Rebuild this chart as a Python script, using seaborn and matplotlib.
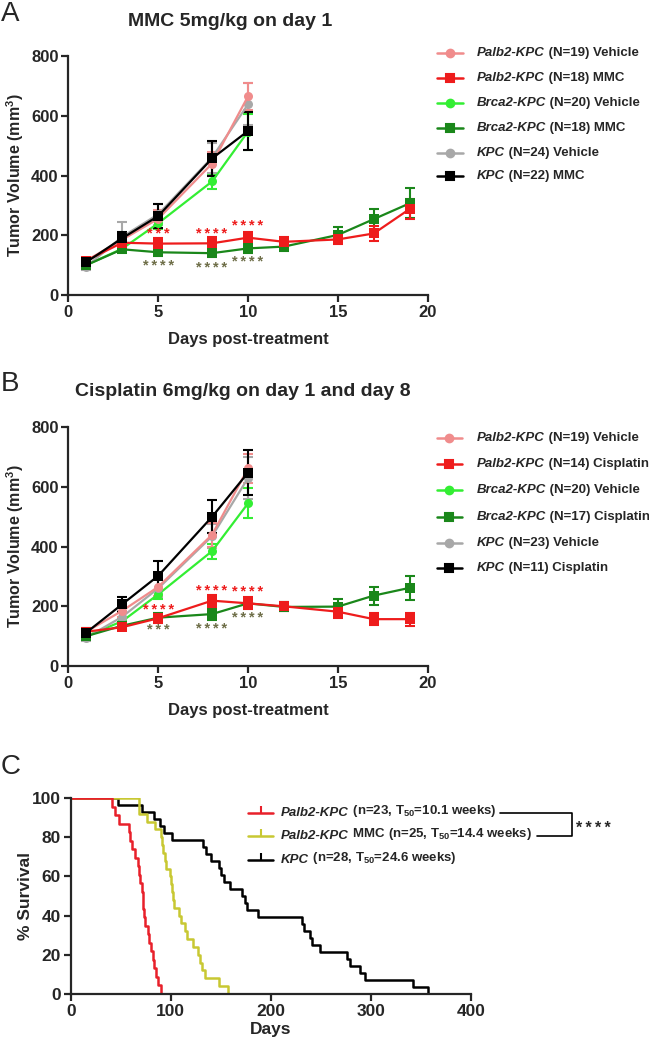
import numpy as np
import pandas as pd
import seaborn as sns
import matplotlib.pyplot as plt
from matplotlib.lines import Line2D

sns.set_style('ticks')
plt.rcParams['font.family'] = ['Liberation Sans', 'DejaVu Sans']
plt.rcParams['mathtext.fontset'] = 'custom'
plt.rcParams['mathtext.rm'] = 'Liberation Sans'
plt.rcParams['mathtext.bf'] = 'Liberation Sans:bold'
plt.rcParams['mathtext.it'] = 'Liberation Sans:italic'

# ---------------- data ----------------
day_veh = [1, 3, 5, 8, 10]
day_trt = [1, 3, 5, 8, 10, 12, 15, 17, 19]

# panel A - MMC
a_palb2_veh = [115, 185, 255, 440, 665]
a_palb2_veh_err = [10, 20, 30, 40, 45]
a_palb2_mmc = [115, 175, 172, 173, 192, 178, 186, 206, 288]
a_palb2_mmc_err = [10, 15, 20, 20, 20, 15, 15, 25, 35]
a_brca2_veh = [100, 155, 240, 380, 547]
a_brca2_veh_err = [8, 15, 20, 25, 60]
a_brca2_mmc = [100, 153, 143, 140, 156, 162, 201, 254, 307]
a_brca2_mmc_err = [8, 10, 12, 12, 15, 15, 25, 35, 50]
a_kpc_veh = [95, 195, 270, 460, 638]
a_kpc_veh_err = [10, 50, 35, 50, 70]
a_kpc_mmc = [110, 190, 264, 457, 549]
a_kpc_mmc_err = [15, 20, 40, 60, 65]

# panel B - cisplatin
b_palb2_veh = [115, 185, 265, 440, 662]
b_palb2_veh_err = [10, 20, 30, 40, 50]
b_palb2_cis = [115, 130, 160, 219, 210, 200, 182, 157, 157]
b_palb2_cis_err = [10, 10, 15, 20, 20, 15, 20, 20, 22]
b_brca2_veh = [100, 150, 240, 385, 545]
b_brca2_veh_err = [8, 12, 15, 25, 50]
b_brca2_cis = [100, 135, 162, 174, 210, 198, 199, 236, 262]
b_brca2_cis_err = [8, 10, 15, 20, 15, 15, 25, 30, 40]
b_kpc_veh = [95, 165, 260, 435, 630]
b_kpc_veh_err = [10, 20, 30, 40, 70]
b_kpc_cis = [112, 207, 302, 500, 648]
b_kpc_cis_err = [15, 25, 50, 55, 75]

group_keys = ['palb2_veh', 'palb2_trt', 'brca2_veh', 'brca2_trt', 'kpc_veh', 'kpc_trt']
group_colors = ['#F08C8C', '#EE1C1C', '#33EE33', '#1A871A', '#A8A8A8', '#000000']
group_markers = ['o', 's', 'o', 's', 'o', 's']
draw_order = ['brca2_veh', 'kpc_veh', 'palb2_veh', 'brca2_trt', 'palb2_trt', 'kpc_trt']

legend_geno = ['Palb2-KPC', 'Palb2-KPC', 'Brca2-KPC', 'Brca2-KPC', 'KPC', 'KPC']
a_legend_rest = [' (N=19) Vehicle', ' (N=18) MMC', ' (N=20) Vehicle',
                 ' (N=18) MMC', ' (N=24) Vehicle', ' (N=22) MMC']
b_legend_rest = [' (N=19) Vehicle', ' (N=14) Cisplatin', ' (N=20) Vehicle',
                 ' (N=17) Cisplatin', ' (N=23) Vehicle', ' (N=11) Cisplatin']

# significance stars: (day, baseline y, number of stars, color)
a_stars = [(5, 190, 3, 'red'), (8, 190, 4, 'red'), (10, 216, 4, 'red'),
           (5, 84, 4, 'olive'), (8, 78, 4, 'olive'), (10, 97, 4, 'olive')]
b_stars = [(5, 173, 4, 'red'), (8, 238, 4, 'red'), (10, 233, 4, 'red'),
           (5, 108, 3, 'olive'), (8, 112, 4, 'olive'), (10, 146, 4, 'olive')]
star_colors = {'red': '#EE1C1C', 'olive': '#6E6E48'}

# panel C - survival (death days)
c_palb2 = [41, 44, 48, 58, 59, 61, 64, 67, 68.5, 69, 71, 72, 72.5, 73.5, 74.5,
           77, 78.5, 80, 82, 83, 85, 87.5, 90]
c_palb2_mmc = [68, 68, 76, 84, 90, 91, 92, 94, 95, 99, 100, 101, 102, 103, 108,
               110, 114, 116, 122, 127, 129, 131, 134, 148, 157]
c_kpc = [47, 71, 83, 89, 93, 101, 132, 135, 140, 148, 150, 153, 159, 171, 174,
         176, 187, 231, 233, 239, 241, 249, 276, 279, 289, 294, 342, 357]
c_keys = ['palb2', 'palb2_mmc', 'kpc']
c_colors = ['#E8202A', '#C8C832', '#000000']
c_geno = ['Palb2-KPC', 'Palb2-KPC', 'KPC']
c_rest = [r' (n=23, $\mathbf{T_{50}}$=10.1 weeks)',
          r' MMC (n=25, $\mathbf{T_{50}}$=14.4 weeks)',
          r' (n=28, $\mathbf{T_{50}}$=24.6 weeks)']

W, H = 649, 1039
fig = plt.figure(figsize=(W / 100, H / 100), dpi=100)


def fx(px):
    return px / W


def fy(py):
    return 1 - py / H


def stars_text(n):
    return '\u2009'.join(['*'] * n)


axA = fig.add_axes([fx(68.3), fy(295), (427.7 - 68.3) / W, 239 / H])
axB = fig.add_axes([fx(68.3), fy(666), (427.7 - 68.3) / W, 238.7 / H])
axC = fig.add_axes([fx(70.7), fy(994), 400 / W, 196 / H])


def style_axis(ax):
    sns.despine(ax=ax)
    for s in ['left', 'bottom']:
        ax.spines[s].set_linewidth(1.6)
    ax.tick_params(direction='out', length=5, width=1.6, labelsize=12, pad=2)
    for lab in ax.get_xticklabels() + ax.get_yticklabels():
        lab.set_fontweight('bold')


def growth_panel(ax, vals, errs, stars):
    frames = []
    for key, v, e in zip(group_keys, vals, errs):
        d = day_veh if len(v) == len(day_veh) else day_trt
        frames.append(pd.DataFrame({'day': d, 'vol': v, 'err': e, 'group': key}))
    df = pd.concat(frames, ignore_index=True)
    pal = dict(zip(group_keys, group_colors))
    sns.lineplot(data=df, x='day', y='vol', hue='group', style='group',
                 hue_order=draw_order, style_order=draw_order, palette=pal,
                 markers=dict(zip(group_keys, group_markers)), dashes=False,
                 estimator=None, errorbar=None, sort=False, linewidth=1.6,
                 markersize=6.5, markeredgewidth=0, legend=False, ax=ax)
    for key in draw_order:
        sub = df[df['group'] == key]
        ax.errorbar(sub['day'], sub['vol'], yerr=sub['err'], fmt='none',
                    ecolor=pal[key], elinewidth=1.5, capsize=3.5, capthick=1.5, zorder=1.5)
    for d, y, n, c in stars:
        ax.text(d, y, stars_text(n), color=star_colors[c], fontsize=10.5,
                fontweight='bold', ha='center', va='baseline')
    ax.set_xlim(0, 20)
    ax.set_ylim(0, 800)
    ax.set_xticks([0, 5, 10, 15, 20])
    ax.set_yticks([0, 200, 400, 600, 800])
    ax.set_xlabel('Days post-treatment', fontsize=12, fontweight='bold')
    ax.set_ylabel(r'Tumor Volume (mm$^{\mathbf{3}}$)', fontsize=11.5, fontweight='bold')
    ax.xaxis.set_label_coords(0.5, -0.155)
    ax.yaxis.set_label_coords(-0.118, 0.5)
    style_axis(ax)


def legend_row(ax, py, color, marker, geno, rest, line_x, text_x, ms, fs=9.5):
    x0, x1 = line_x
    fig.add_artist(Line2D([fx(x0), fx(x1)], [fy(py), fy(py)], color=color, lw=1.8,
                          transform=fig.transFigure))
    if marker is not None:
        fig.add_artist(Line2D([fx((x0 + x1) / 2)], [fy(py)], color=color, marker=marker,
                              ms=ms, mew=1.5, ls='none', transform=fig.transFigure))
    t = fig.text(fx(text_x), fy(py), geno, fontsize=fs, fontweight='bold',
                 fontstyle='italic', va='center', ha='left')
    ax.annotate(rest, xy=(1, 0), xycoords=t, va='bottom', ha='left',
                fontsize=fs, fontweight='bold')


# ---------------- panel A ----------------
growth_panel(axA,
             [a_palb2_veh, a_palb2_mmc, a_brca2_veh, a_brca2_mmc, a_kpc_veh, a_kpc_mmc],
             [a_palb2_veh_err, a_palb2_mmc_err, a_brca2_veh_err, a_brca2_mmc_err,
              a_kpc_veh_err, a_kpc_mmc_err],
             a_stars)
for py, c, m, g, r in zip([53.3, 78.3, 102.7, 128.3, 152.7, 175.7], group_colors,
                          group_markers, legend_geno, a_legend_rest):
    legend_row(axA, py, c, m, g, r, (437, 463), 477, 5.5 if m == 'o' else 6)

# ---------------- panel B ----------------
growth_panel(axB,
             [b_palb2_veh, b_palb2_cis, b_brca2_veh, b_brca2_cis, b_kpc_veh, b_kpc_cis],
             [b_palb2_veh_err, b_palb2_cis_err, b_brca2_veh_err, b_brca2_cis_err,
              b_kpc_veh_err, b_kpc_cis_err],
             b_stars)
for py, c, m, g, r in zip([437.7, 464, 490, 516.7, 542.7, 568.3], group_colors,
                          group_markers, legend_geno, b_legend_rest):
    legend_row(axB, py, c, m, g, r, (436.7, 461.7), 476.7, 5.5 if m == 'o' else 6)

# ---------------- panel C ----------------
frames = []
for key, times in zip(c_keys, [c_palb2, c_palb2_mmc, c_kpc]):
    n = len(times)
    t = np.concatenate([[0], np.sort(times)])
    s = 100 * (1 - np.arange(n + 1) / n)
    frames.append(pd.DataFrame({'t': t, 's': s, 'group': key}))
surv = pd.concat(frames, ignore_index=True)
sns.lineplot(data=surv, x='t', y='s', hue='group', hue_order=c_keys[::-1],
             palette=dict(zip(c_keys, c_colors)), estimator=None, errorbar=None,
             sort=False, drawstyle='steps-post', linewidth=1.8, legend=False, ax=axC)
axC.set_xlim(0, 400)
axC.set_ylim(0, 100)
axC.set_xticks([0, 100, 200, 300, 400])
axC.set_yticks([0, 20, 40, 60, 80, 100])
axC.set_xlabel('Days', fontsize=12.5, fontweight='bold')
axC.set_ylabel('% Survival', fontsize=12.5, fontweight='bold')
axC.xaxis.set_label_coords(0.5, -0.143)
axC.yaxis.set_label_coords(-0.094, 0.5)
style_axis(axC)
axC.tick_params(labelsize=12.5)

for py, c, g, r in zip([813, 836, 860], c_colors, c_geno, c_rest):
    legend_row(axC, py, c, 2, g, r, (248, 273), 281, 5)

fig.add_artist(Line2D([fx(500), fx(572), fx(572), fx(537)],
                      [fy(813), fy(813), fy(836), fy(836)], color='black', lw=1.2,
                      transform=fig.transFigure))
fig.text(fx(593), fy(833), stars_text(4), fontsize=11.5, fontweight='bold',
         ha='center', va='baseline')

# ---------------- titles / panel letters ----------------
fig.text(fx(128), fy(21), 'MMC 5mg/kg on day 1', fontsize=14, fontweight='bold',
         ha='left', va='center')
fig.text(fx(75), fy(391), 'Cisplatin 6mg/kg on day 1 and day 8', fontsize=14,
         fontweight='bold', ha='left', va='center')
for letter, py in [('A', 1), ('B', 371), ('C', 754)]:
    fig.text(fx(1), fy(py), letter, fontsize=20, ha='left', va='top')

fig.savefig('out.png', dpi=100)
